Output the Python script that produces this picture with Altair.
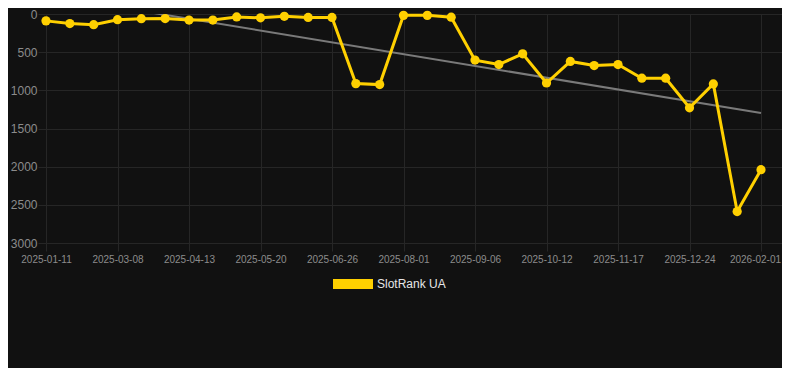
import altair as alt
import pandas as pd

# Category labels (every third one is shown on the axis)
dates = [
    "2025-01-11", "2025-01-30", "2025-02-18",
    "2025-03-08", "2025-03-20", "2025-04-01",
    "2025-04-13", "2025-04-25", "2025-05-08",
    "2025-05-20", "2025-06-01", "2025-06-14",
    "2025-06-26", "2025-07-08", "2025-07-20",
    "2025-08-01", "2025-08-13", "2025-08-25",
    "2025-09-06", "2025-09-18", "2025-09-30",
    "2025-10-12", "2025-10-24", "2025-11-05",
    "2025-11-17", "2025-11-29", "2025-12-12",
    "2025-12-24", "2026-01-06", "2026-01-19",
    "2026-02-01",
]

# SlotRank UA values
ranks = [90, 125, 140, 75, 62, 60, 80, 80, 38, 50, 30, 45, 45, 912, 925, 18,
         18, 42, 604, 662, 521, 904, 621, 675, 662, 841, 841, 1229, 916, 2588, 2039]

# Trend line end values (first and last category)
trend_values = [-246, 1298]

series_name = "SlotRank UA"
y_ticks = [0, 500, 1000, 1500, 2000, 2500, 3000]

df = pd.DataFrame({
    "idx": list(range(len(dates))),
    "date": dates,
    "rank": ranks,
    "series": [series_name] * len(dates),
})
trend_df = pd.DataFrame({"idx": [0, len(dates) - 1], "rank": trend_values})

label_array = "[" + ",".join("'" + d + "'" for d in dates) + "]"
last_idx = len(dates) - 1

GOLD = "#FFD000"
GRID = "#262626"
FONT = "Liberation Sans"

x_enc = alt.X(
    "idx:Q",
    scale=alt.Scale(domain=[0, 30.881], nice=False, zero=False),
    axis=alt.Axis(
        values=list(range(0, len(dates), 3)),
        labelExpr=label_array + "[datum.value]",
        title=None,
        labelFontSize=10,
        labelPadding=3,
        labelOverlap=False,
        labelFlush=False,
        labelOffset={"expr": f"datum.value == {last_idx} ? -6 : 0"},
    ),
)
y_enc = alt.Y(
    "rank:Q",
    scale=alt.Scale(domain=[0, 3000], reverse=True, nice=False, zero=False),
    axis=alt.Axis(values=y_ticks, format="d", title=None, labelFontSize=12,
                  labelPadding=1, labelOverlap=False, labelFlush=False),
)

trend = alt.Chart(trend_df).mark_line(color="#7a7a7a", strokeWidth=2, clip=True).encode(
    x=x_enc, y=y_enc
)
line = alt.Chart(df).mark_line(color=GOLD, strokeWidth=3).encode(x=x_enc, y=y_enc)
points = alt.Chart(df).mark_point(filled=True, size=85, opacity=1).encode(
    x=x_enc,
    y=y_enc,
    color=alt.Color(
        "series:N",
        scale=alt.Scale(range=[GOLD]),
        legend=alt.Legend(
            title=None,
            orient="none",
            legendX=287,
            legendY=250,
            symbolType="M-1,-0.25L1,-0.25L1,0.25L-1,0.25Z",
            symbolSize=1600,
            symbolStrokeWidth=0,
            symbolOpacity=1,
            labelColor="#e6e6e6",
            labelFontSize=12,
            labelFont=FONT,
            labelOffset=4,
        ),
    ),
)

chart = (
    alt.layer(trend, line, points)
    .properties(
        width=736,
        height=229,
        padding={"left": 38, "top": 6, "right": 0, "bottom": 125},
        autosize="none",
        background="#111111",
    )
    .configure_view(stroke=None)
    .configure_axis(
        domain=False,
        grid=True,
        gridColor=GRID,
        gridWidth=1,
        ticks=True,
        tickColor=GRID,
        tickSize=8,
        labelColor="#8c8c8c",
        labelFont=FONT,
    )
)

chart.save("out.html", embed_options={"renderer": "svg", "actions": False})
